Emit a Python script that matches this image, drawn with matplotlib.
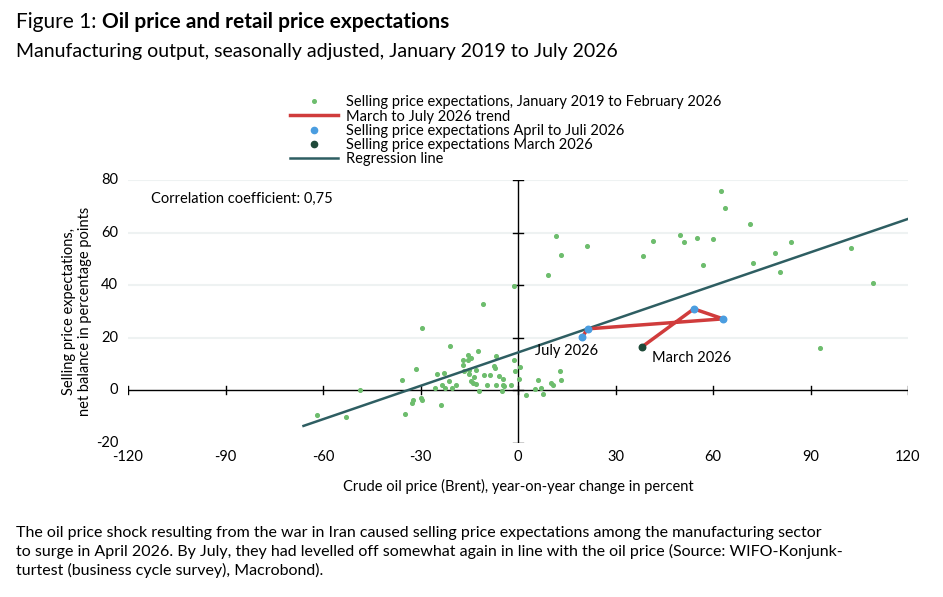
import matplotlib
matplotlib.use("Agg")
import matplotlib.pyplot as plt
import numpy as np

plt.rcParams['font.family'] = ['Lato', 'DejaVu Sans']

hist_x = [-61.8,-53,-48.6,-35.6,-34.9,-32.5,-32.2,-31.5,-29.9,-29.4,-29.4,-25.6,-25,-23.8,-23.5,-22.8,-22.5,
          -21,-21.1,-20.3,-19.1,-17,-17,-16.6,-15.4,-15.4,-15.1,-15.1,-14.4,-14.6,-14,-13.4,-12.9,-12.8,-12.4,-12.1,
          -10.7,-10.4,-9.6,-8.6,-7.5,-7.1,-6.9,-6.8,-5.7,-4.7,-4.6,-4.2,-4.9,-2.3,-1.3,-1.3,-1,0.5,0.3,2.5,5.3,6.3,7,7.6,
          10,10.8,12.8,13.2,9.3,11.8,13.1,21.2,38.5,41.6,49.7,51,55,56.9,60,62.5,63.8,71.5,72.2,79,80.6,84,93,102.4,109.2]
hist_y = [-9.4,-10,0.1,3.9,-9,-4.7,-3.8,8.1,-2.9,-3.7,23.7,0.9,6.2,-5.7,2,6.6,0.9,
          16.8,3.5,1.1,1.9,11.5,9.7,7.4,13.4,11.5,7.7,6.2,12.3,3.7,2.7,5,2.5,7.6,14.8,-0.4,
          32.8,5.8,2.1,5.8,9.3,8.6,12.9,2.1,5.3,4.2,1.9,1.5,-0.3,1.9,39.7,11.5,7.5,8.8,4.2,-1.9,0.4,3.9,0.9,-1.2,
          2.8,2.1,7.5,3.9,43.9,58.7,51.5,54.9,51.1,56.8,59.1,56.4,57.9,47.6,57.5,75.8,69.3,63.2,48.4,52.2,45,56.4,16.2,54.1,40.8]
trend_x = [38.1, 54.1, 63.1, 21.4, 19.8]
trend_y = [16.5, 31.0, 27.2, 23.4, 20.3]
reg_x = [-66, 120]
reg_y = [-13.5, 65.2]
xticks = [-120, -90, -60, -30, 0, 30, 60, 90, 120]
yticks = [-20, 0, 20, 40, 60, 80]

fig = plt.figure(figsize=(9.43, 5.97), dpi=100)
ax = fig.add_axes([128/943, 1-443/597, 780/943, 263/597])
ax.set_xlim(-120, 120)
ax.set_ylim(-20, 80)
for s in ax.spines.values():
    s.set_visible(False)
ax.set_xticks([]); ax.set_yticks([])
for yv in yticks:
    if yv not in (0, -20):
        ax.axhline(yv, color='#eef2f2', lw=1.5, zorder=0)
ax.axhline(0, color='black', lw=1, zorder=1)
ax.axvline(0, color='black', lw=1, zorder=1)
for xv in xticks:
    ax.plot([xv, xv], [-1.5, 1.5], color='black', lw=1, zorder=1)
    ax.text(xv, -25.5, str(xv), ha='center', va='center', fontsize=10.5)
for yv in yticks:
    ax.plot([-1.4, 1.4], [yv, yv], color='black', lw=1, zorder=1)
    ax.text(-123, yv, str(yv), ha='right', va='center', fontsize=10.5)

ax.scatter(hist_x, hist_y, s=7, color='#6dbd6d', zorder=2)
ax.plot(trend_x, trend_y, color='#d03c3c', lw=2.5, zorder=3)
ax.scatter(trend_x[1:], trend_y[1:], s=22, color='#4a9de0', zorder=4)
ax.scatter(trend_x[:1], trend_y[:1], s=22, color='#1f4a3a', zorder=4)
ax.plot(reg_x, reg_y, color='#2e5e62', lw=1.8, zorder=2)

ax.text(trend_x[-1]-5, trend_y[-1]-2.5, 'July 2026', ha='center', va='top', fontsize=10.5)
ax.text(trend_x[0]+3, trend_y[0]-1.5, 'March 2026', ha='left', va='top', fontsize=10.5)
ax.text(-113, 73, 'Correlation coefficient: 0,75', fontsize=10.5, va='center')

from matplotlib.lines import Line2D
handles = [Line2D([], [], ls='none', marker='o', ms=2.6, color='#6dbd6d'),
           Line2D([], [], color='#d03c3c', lw=2.5),
           Line2D([], [], ls='none', marker='o', ms=4.5, color='#4a9de0'),
           Line2D([], [], ls='none', marker='o', ms=4.5, color='#1f4a3a'),
           Line2D([], [], color='#2e5e62', lw=1.8)]
labels = ['Selling price expectations, January 2019 to February 2026', 'March to July 2026 trend',
          'Selling price expectations April to Juli 2026', 'Selling price expectations March 2026', 'Regression line']
fig.legend(handles, labels, loc='upper left', bbox_to_anchor=(283/943, 1-88/597),
           frameon=False, fontsize=10.5, handlelength=3.3, labelspacing=0.02, borderpad=0, handletextpad=0.5)

ax.set_xlabel('Crude oil price (Brent), year-on-year change in percent', fontsize=10.5, labelpad=26)
ax.set_ylabel('Selling price expectations,\nnet balance in percentage points', fontsize=10.5, labelpad=26)

t1 = fig.text(16/943, 1-22/597, 'Figure 1: ', fontsize=15, va='center', ha='left')
fig.canvas.draw()
bb = t1.get_window_extent(fig.canvas.get_renderer())
fig.text(bb.x1/943, 1-22/597, 'Oil price and retail price expectations', fontsize=15, fontweight='bold', va='center')
fig.text(16/943, 1-51/597, 'Manufacturing output, seasonally adjusted, January 2019 to July 2026', fontsize=14, va='center')
fig.text(16/943, 1-552/597,
         'The oil price shock resulting from the war in Iran caused selling price expectations among the manufacturing sector\n'
         'to surge in April 2026. By July, they had levelled off somewhat again in line with the oil price (Source: WIFO-Konjunk-\n'
         'turtest (business cycle survey), Macrobond).', fontsize=11.5, va='center', linespacing=1.35)
fig.savefig('out.png', dpi=100)
